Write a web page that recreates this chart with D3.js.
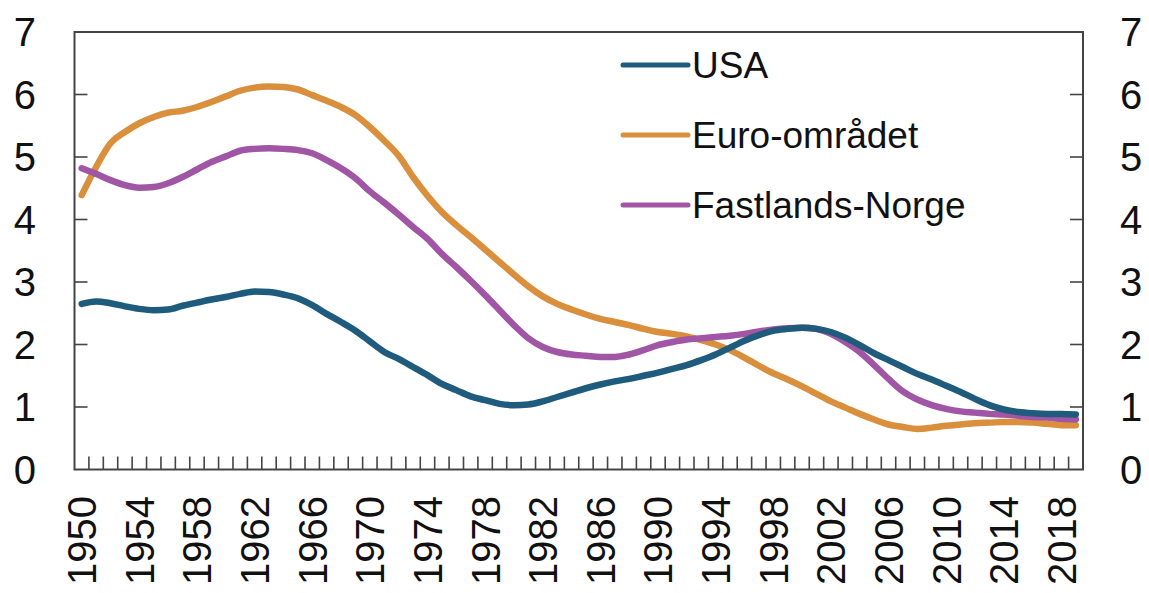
<!DOCTYPE html>
<html>
<head>
<meta charset="utf-8">
<script src="https://cdn.jsdelivr.net/npm/d3@7"></script>
<style>
  body { margin: 0; background: #fff; }
  svg { display: block; font-family: "Liberation Sans", Arial, sans-serif; }
</style>
</head>
<body>
<div id="chart"></div>
<script>
// years on the x axis
var years = d3.range(1950, 2020);
var tickYears = d3.range(1950, 2020, 4);
var yTicks = [0, 1, 2, 3, 4, 5, 6, 7];

var usa = [2.65, 2.69, 2.66, 2.61, 2.57, 2.55, 2.56, 2.62, 2.67, 2.72,
  2.76, 2.81, 2.85, 2.84, 2.80, 2.74, 2.63, 2.49, 2.36, 2.22,
  2.05, 1.88, 1.77, 1.64, 1.51, 1.37, 1.27, 1.17, 1.11, 1.05,
  1.03, 1.04, 1.09, 1.16, 1.23, 1.30, 1.36, 1.41, 1.45, 1.50,
  1.55, 1.61, 1.67, 1.75, 1.84, 1.95, 2.06, 2.15, 2.22, 2.25,
  2.27, 2.25, 2.20, 2.11, 1.99, 1.86, 1.75, 1.64, 1.53, 1.44,
  1.34, 1.24, 1.13, 1.03, 0.96, 0.92, 0.90, 0.89, 0.89, 0.88];

var euro = [4.39, 4.84, 5.22, 5.40, 5.54, 5.64, 5.71, 5.74, 5.80, 5.88,
  5.97, 6.06, 6.11, 6.13, 6.12, 6.08, 5.99, 5.90, 5.80, 5.67,
  5.48, 5.26, 5.02, 4.68, 4.38, 4.12, 3.91, 3.72, 3.52, 3.32,
  3.12, 2.93, 2.77, 2.65, 2.56, 2.48, 2.41, 2.36, 2.31, 2.25,
  2.20, 2.17, 2.13, 2.07, 2.00, 1.91, 1.79, 1.66, 1.54, 1.44,
  1.33, 1.21, 1.09, 0.99, 0.89, 0.80, 0.72, 0.68, 0.65, 0.67,
  0.70, 0.72, 0.74, 0.75, 0.76, 0.76, 0.75, 0.73, 0.71, 0.71];

var norge = [4.82, 4.73, 4.63, 4.55, 4.51, 4.52, 4.58, 4.68, 4.80, 4.92,
  5.01, 5.10, 5.13, 5.14, 5.13, 5.11, 5.06, 4.95, 4.82, 4.66,
  4.45, 4.27, 4.08, 3.88, 3.69, 3.45, 3.24, 3.02, 2.79, 2.55,
  2.31, 2.10, 1.96, 1.88, 1.84, 1.82, 1.80, 1.80, 1.84, 1.91,
  1.99, 2.04, 2.08, 2.10, 2.12, 2.14, 2.17, 2.21, 2.24, 2.26,
  2.27, 2.25, 2.17, 2.04, 1.88, 1.67, 1.45, 1.25, 1.12, 1.03,
  0.97, 0.93, 0.91, 0.89, 0.88, 0.86, 0.84, 0.83, 0.81, 0.80];

var seriesNames = ["USA", "Euro-området", "Fastlands-Norge"];
var seriesColors = ["#1e5b7c", "#d98f3c", "#a056a5"];
var seriesValues = [usa, euro, norge];

var width = 1149, height = 593;
var plotLeft = 74.5, plotRight = 1083, plotTop = 32, plotBottom = 469.5;
var axisColor = "#444";

var svg = d3.select("#chart").append("svg")
  .attr("width", width)
  .attr("height", height);

var x = d3.scaleBand().domain(years).range([plotLeft, plotRight]);
var y = d3.scaleLinear().domain([0, 7]).range([plotBottom, plotTop]);

// minor ticks between the years, pointing up from the bottom axis
svg.append("g")
  .selectAll("line")
  .data(years.slice(1))
  .enter()
  .append("line")
  .attr("x1", function (d) { return x(d); })
  .attr("x2", function (d) { return x(d); })
  .attr("y1", plotBottom)
  .attr("y2", plotBottom - 13)
  .attr("stroke", axisColor)
  .attr("stroke-width", 1.6);

// y ticks, inward on both sides
svg.append("g")
  .selectAll("line")
  .data(yTicks.slice(1, -1))
  .enter()
  .append("line")
  .attr("x1", plotLeft)
  .attr("x2", plotLeft + 13)
  .attr("y1", function (d) { return y(d); })
  .attr("y2", function (d) { return y(d); })
  .attr("stroke", axisColor)
  .attr("stroke-width", 1.6);

svg.append("g")
  .selectAll("line")
  .data(yTicks.slice(1, -1))
  .enter()
  .append("line")
  .attr("x1", plotRight - 13)
  .attr("x2", plotRight)
  .attr("y1", function (d) { return y(d); })
  .attr("y2", function (d) { return y(d); })
  .attr("stroke", axisColor)
  .attr("stroke-width", 1.6);

// frame
svg.append("rect")
  .attr("x", plotLeft)
  .attr("y", plotTop)
  .attr("width", plotRight - plotLeft)
  .attr("height", plotBottom - plotTop)
  .attr("fill", "none")
  .attr("stroke", axisColor)
  .attr("stroke-width", 2);

// y labels left and right
svg.append("g")
  .selectAll("text")
  .data(yTicks)
  .enter()
  .append("text")
  .attr("x", 36)
  .attr("y", function (d) { return y(d); })
  .attr("dy", "0.36em")
  .attr("text-anchor", "end")
  .style("font-size", "40px")
  .style("fill", "#111")
  .text(function (d) { return d; });

svg.append("g")
  .selectAll("text")
  .data(yTicks)
  .enter()
  .append("text")
  .attr("x", 1120)
  .attr("y", function (d) { return y(d); })
  .attr("dy", "0.36em")
  .attr("text-anchor", "start")
  .style("font-size", "40px")
  .style("fill", "#111")
  .text(function (d) { return d; });

// x labels, rotated
svg.append("g")
  .selectAll("text")
  .data(tickYears)
  .enter()
  .append("text")
  .attr("transform", function (d) {
    return "translate(" + (x(d) + x.bandwidth() / 2) + "," + 496 + ") rotate(-90)";
  })
  .attr("dy", "0.36em")
  .attr("text-anchor", "end")
  .style("font-size", "40px")
  .style("fill", "#111")
  .text(function (d) { return d; });

// lines
var line = d3.line()
  .x(function (d, i) { return x(years[i]) + x.bandwidth() / 2; })
  .y(function (d) { return y(d); })
  .curve(d3.curveMonotoneX);

// draw order: euro first, then norge, usa on top
[1, 2, 0].forEach(function (s) {
  svg.append("path")
    .datum(seriesValues[s])
    .attr("d", line)
    .attr("fill", "none")
    .attr("stroke", seriesColors[s])
    .attr("stroke-width", 6.5)
    .attr("stroke-linejoin", "round")
    .attr("stroke-linecap", "round");
});

// legend
var legend = svg.append("g")
  .selectAll("g")
  .data(seriesNames)
  .enter()
  .append("g")
  .attr("transform", function (d, i) { return "translate(0," + (65 + i * 70) + ")"; });

legend.append("line")
  .attr("x1", 623)
  .attr("x2", 688)
  .attr("stroke", function (d, i) { return seriesColors[i]; })
  .attr("stroke-width", 5)
  .attr("stroke-linecap", "round");

legend.append("text")
  .attr("x", 692)
  .attr("dy", "0.36em")
  .style("font-size", "37px")
  .style("fill", "#111")
  .text(function (d) { return d; });
</script>
</body>
</html>
